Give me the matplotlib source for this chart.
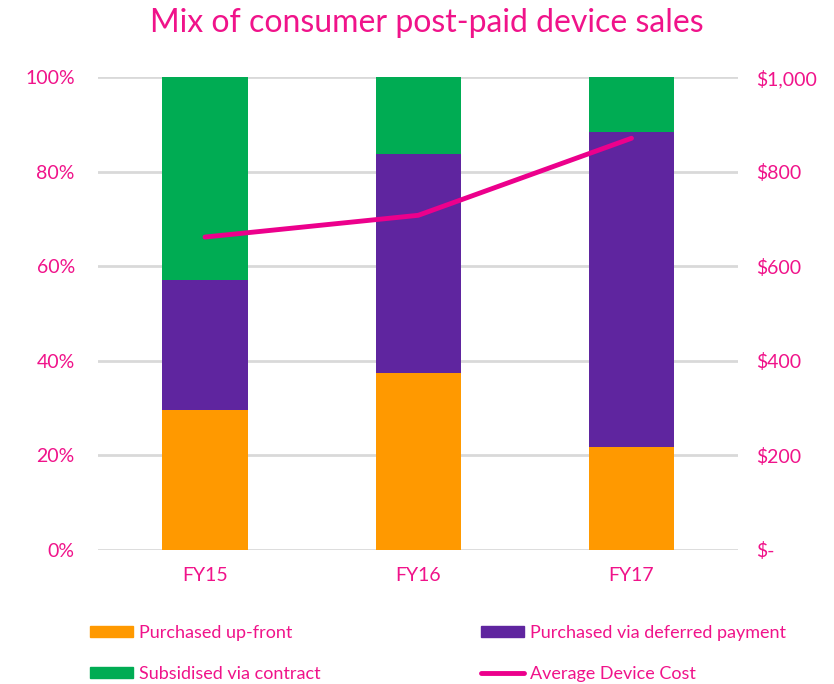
import matplotlib
matplotlib.use("Agg")
import matplotlib.pyplot as plt
from matplotlib.patches import Patch
from matplotlib.lines import Line2D

plt.rcParams['font.family'] = ['Lato', 'DejaVu Sans']

categories = ["FY15", "FY16", "FY17"]
upfront = [29.6, 37.5, 21.8]
deferred = [27.6, 46.2, 66.6]
subsidised = [42.8, 16.3, 11.6]
avg_cost = [662, 708, 871]
left_ticks = [0, 20, 40, 60, 80, 100]
left_labels = ["0%", "20%", "40%", "60%", "80%", "100%"]
right_ticks = [0, 200, 400, 600, 800, 1000]
right_labels = ["$-", "$200", "$400", "$600", "$800", "$1,000"]

PINK = "#EC008C"
TXT = "#F0138A"
ORANGE = "#FF9900"
PURPLE = "#5F259F"
GREEN = "#00AC53"

fig = plt.figure(figsize=(8.34, 6.84), dpi=100)
ax = fig.add_axes([0.118, 0.196, 0.767, 0.691])
x = range(len(categories))
w = 0.4
ax.bar(x, upfront, w, color=ORANGE, zorder=2)
ax.bar(x, deferred, w, bottom=upfront, color=PURPLE, zorder=2)
bottom3 = [a + b for a, b in zip(upfront, deferred)]
ax.bar(x, subsidised, w, bottom=bottom3, color=GREEN, zorder=2)

ax.set_xlim(-0.5, 2.5)
ax.set_ylim(0, 100)
ax.set_yticks(left_ticks)
ax.set_yticklabels(left_labels)
ax.set_xticks(list(x))
ax.set_xticklabels(categories)
ax.grid(axis='y', color="#D9D9D9", linewidth=2, zorder=0)
ax.set_axisbelow(True)
for s in ax.spines.values():
    s.set_visible(False)
ax.tick_params(axis='both', length=0, colors=TXT, labelsize=14)
ax.tick_params(axis='x', pad=12)
ax.tick_params(axis='y', pad=17)

ax2 = ax.twinx()
ax2.plot(list(x), avg_cost, color=PINK, linewidth=3.5, solid_capstyle='round', zorder=3)
ax2.set_ylim(0, 1000)
ax2.set_yticks(right_ticks)
ax2.set_yticklabels(right_labels)
for s in ax2.spines.values():
    s.set_visible(False)
ax2.tick_params(axis='y', length=0, colors=TXT, labelsize=14, pad=13)

fig.text(0.512, 0.966, "Mix of consumer post-paid device sales", ha='center', va='center',
         color=TXT, fontsize=23)

handles = [Patch(color=ORANGE), Patch(color=GREEN), Patch(color=PURPLE),
           Line2D([0], [0], color=PINK, linewidth=3.5, solid_capstyle='round')]
labels = ["Purchased up-front", "Subsidised via contract",
          "Purchased via deferred payment", "Average Device Cost"]
fig.legend(handles, labels, ncol=2, loc='upper left', bbox_to_anchor=(0.108, 0.086),
           frameon=False, fontsize=13, handlelength=2.4, handleheight=0.55,
           handletextpad=0.33, columnspacing=8.85, labelspacing=1.35, labelcolor=TXT,
           borderpad=0, borderaxespad=0)

fig.savefig("out.png", dpi=100)
